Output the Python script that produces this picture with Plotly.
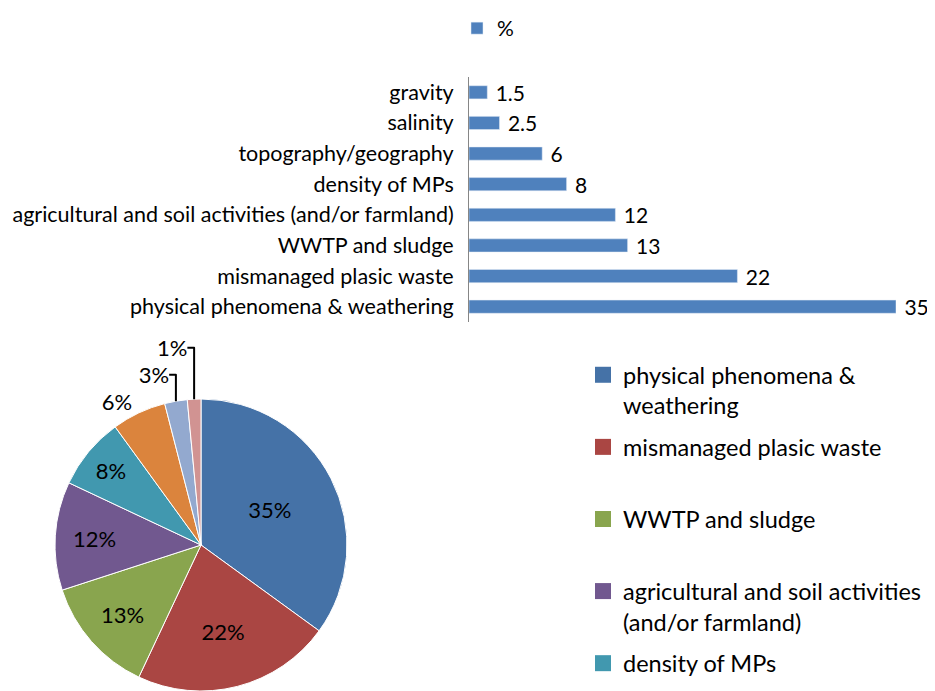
import plotly.graph_objects as go

categories = [
    "physical phenomena & weathering",
    "mismanaged plasic waste",
    "WWTP and sludge",
    "agricultural and soil activities (and/or farmland)",
    "density of MPs",
    "topography/geography",
    "salinity",
    "gravity",
]
values = [35, 22, 13, 12, 8, 6, 2.5, 1.5]
pie_text = ["35%", "22%", "13%", "12%", "8%", "6%", "3%", "1%"]
legend_labels = [
    "physical phenomena &<br>weathering",
    "mismanaged plasic waste<br> ",
    "WWTP and sludge<br> ",
    "agricultural and soil activities<br>(and/or farmland)",
    "density of MPs<br> ",
    "topography/geography<br> ",
    "salinity<br> ",
    "gravity<br> ",
]
pie_colors = ["#4572A7", "#AA4643", "#89A54E", "#71588F", "#4198AF", "#DB843D", "#93A9CF", "#D19392"]
bar_color = "#4F81BD"
series_name = "%"

# page body has an 8px margin: figure drawn at (8, 8) inside the 935x691 window
W, H = 927, 683
FONT = "Lato"


def px(xr):
    return (xr - 8) / W


def py(yr):
    return 1 - (yr - 8) / H


fig = go.Figure()

fig.add_trace(go.Bar(
    x=values, y=categories, orientation="h", name=series_name,
    marker=dict(color=bar_color),
    texttemplate="\u00a0%{x}", textposition="outside",
    textfont=dict(size=21, color="black", family=FONT),
    constraintext="none", cliponaxis=False,
    legend="legend2", showlegend=True,
    xaxis="x", yaxis="y",
))

for lab, col in zip(legend_labels, pie_colors):
    fig.add_trace(go.Scatter(
        x=[None], y=[None], mode="markers", name=lab, legendgroup=lab,
        marker=dict(symbol="square", size=16, color=col),
        legend="legend", showlegend=True, xaxis="x", yaxis="y",
    ))

fig.add_trace(go.Pie(
    labels=categories, values=values, text=pie_text, textinfo="text",
    sort=False, direction="clockwise", rotation=0,
    marker=dict(colors=pie_colors, line=dict(color="white", width=1)),
    textposition=["inside"] * 5 + ["outside"] * 3,
    insidetextorientation="horizontal",
    textfont=dict(size=22, color="black", family=FONT),
    domain=dict(x=[47 / W, 339 / W], y=[0, 292 / H]),
    showlegend=False, hoverinfo="label+value",
))

fig.update_layout(
    width=W, height=H,
    margin=dict(l=0, r=0, t=0, b=0, autoexpand=False),
    paper_bgcolor="white", plot_bgcolor="white",
    font=dict(family=FONT, size=21, color="black"),
    bargap=0.57,
    xaxis=dict(domain=[px(469), px(896)], range=[0, 35], visible=False, fixedrange=True),
    yaxis=dict(
        domain=[py(322), py(77)], showline=True, linecolor="#868686", linewidth=1,
        ticks="", showgrid=False, zeroline=False, automargin=False,
        tickfont=dict(size=21.5, family=FONT, color="black"), ticklabelstandoff=10,
    ),
    legend=dict(
        x=px(583), xanchor="left", y=py(353), yanchor="top",
        font=dict(size=23.5, family=FONT, color="black"), valign="top",
        tracegroupgap=8, maxheight=1000, bgcolor="rgba(0,0,0,0)",
    ),
    legend2=dict(
        x=px(457), xanchor="left", y=1, yanchor="top",
        font=dict(size=21, family=FONT, color="black"), bgcolor="rgba(0,0,0,0)",
    ),
)

fig.write_html("out.html")
